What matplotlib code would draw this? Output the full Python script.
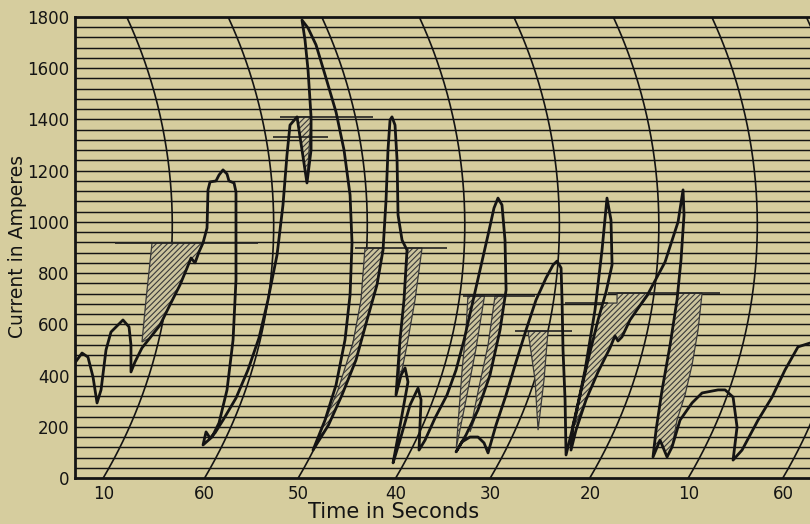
import numpy as np
import matplotlib.pyplot as plt

# Recording ammeter chart: current in amperes against time (curved time rulings)

amp_ticks = [0, 200, 400, 600, 800, 1000, 1200, 1400, 1600, 1800]
time_tick_pos = [2.9, 13.3, 22.9, 32.9, 42.6, 52.8, 62.9, 72.6]
time_tick_labels = ['10', '60', '50', '40', '30', '20', '10', '60']

# pen trace (seconds from left edge of sheet, amperes)
trace_s = [0.0, 0.72, 1.33, 1.85, 2.26, 2.67, 3.18, 3.69, 4.31, 4.92, 5.54, 5.74, 5.74,
           6.15, 6.87, 7.69, 8.72, 9.74, 10.77, 11.49, 11.9, 12.31, 12.72, 13.13, 13.54,
           13.64, 13.85, 14.46, 14.77, 15.18, 15.59, 15.79, 16.31, 16.51, 16.51, 16.21,
           15.59, 14.77, 14.05, 13.13, 13.44, 13.85, 14.36, 15.18, 16.51, 17.74, 18.87,
           19.79, 20.72, 21.33, 21.74, 22.05, 22.77, 23.79, 24.21, 24.21, 23.9, 23.59,
           23.28, 23.9, 24.72, 25.74, 26.77, 27.59, 28.21, 28.41, 28.21, 27.69, 26.77,
           25.64, 24.41, 26.0, 27.38, 28.82, 29.95, 30.97, 31.59, 31.9, 32.1, 32.31,
           32.51, 32.82, 33.03, 33.13, 33.54, 34.05, 33.74, 33.33, 32.92, 33.44, 33.85,
           34.15, 33.44, 32.62, 33.33, 34.36, 35.18, 35.49, 35.28, 35.9, 36.92, 38.15,
           39.08, 39.9, 40.72, 41.54, 42.36, 42.97, 43.38, 43.79, 44.1, 44.21, 43.59,
           42.56, 41.33, 40.1, 39.08, 39.69, 40.51, 41.33, 41.95, 42.36, 43.18, 44.21,
           45.23, 46.26, 47.28, 48.31, 49.03, 49.44, 49.85, 49.95, 50.05, 50.26, 50.36,
           51.28, 52.31, 53.33, 54.05, 54.56, 54.97, 55.08, 54.46, 53.64, 52.62, 51.69,
           51.08, 50.87, 51.38, 52.41, 53.64, 54.87, 55.38, 55.69, 56.1, 56.92, 58.77,
           60.51, 61.85, 62.36, 62.46, 62.15, 61.74, 61.03, 60.21, 59.59, 59.28, 60.0,
           60.72, 61.23, 62.05, 63.28, 64.31, 65.95, 66.67, 67.49, 67.9, 67.49, 68.41,
           70.05, 71.49, 72.82, 74.15, 75.38]
trace_a = [450, 488, 472, 394, 293, 344, 500, 570, 594, 617, 590, 519, 414,
           453, 508, 547, 597, 676, 754, 820, 859, 840, 883, 918, 976,
           1125, 1156, 1160, 1183, 1203, 1187, 1160, 1152, 1117, 773, 539,
           344, 215, 160, 129, 180, 156, 176, 226, 312, 422, 547,
           695, 871, 1066, 1261, 1378, 1410, 1152, 1281, 1410, 1593, 1710,
           1788, 1757, 1691, 1562, 1429, 1281, 1105, 918, 715, 539, 363,
           226, 109, 207, 324, 461, 617, 754, 890, 1086, 1281, 1398,
           1410, 1378, 1242, 1027, 929, 890, 695, 539, 324, 402, 430,
           375, 226, 59, 148, 285, 351, 305, 109, 148, 234, 324,
           422, 539, 676, 812, 949, 1054, 1093, 1066, 929, 734, 578,
           402, 266, 168, 102, 141, 160, 160, 137, 98, 207, 324,
           453, 578, 695, 781, 832, 847, 820, 695, 500, 305, 90,
           234, 422, 656, 890, 1093, 1007, 832, 726, 617, 461, 305,
           207, 109, 187, 305, 414, 508, 555, 535, 551, 617, 719,
           843, 1000, 1125, 1027, 851, 695, 519, 344, 187, 82, 148,
           82, 121, 226, 293, 332, 344, 344, 316, 199, 70, 109,
           226, 316, 422, 512, 527]

# average-current lines drawn across each run
avg_amps = [918, 1410, 1332, 898, 711, 574, 683, 722]
avg_from = [4.1, 21.0, 20.3, 28.7, 39.8, 45.1, 50.3, 54.7]
avg_to = [18.8, 30.6, 25.9, 38.2, 47.2, 51.0, 54.7, 66.2]

# hatched areas (seconds, amperes)
hatch_60 = [(7.9, 918), (13.13, 918), (12.72, 883), (12.31, 840), (11.9, 859), (11.49, 820),
            (10.77, 754), (9.74, 676), (8.72, 597), (7.69, 547), (6.87, 531), (7.28, 695)]
hatch_peak = [(22.77, 1410), (24.21, 1410), (23.79, 1152)]
hatch_50 = [(29.74, 898), (31.59, 898), (30.97, 754), (29.95, 617), (28.82, 461), (27.38, 324),
            (26.0, 207), (24.41, 109), (26.97, 344), (28.51, 527), (29.33, 695)]
hatch_40 = [(34.15, 898), (35.59, 898), (34.87, 695), (34.05, 519), (33.23, 363), (33.33, 539),
            (33.74, 695)]
hatch_30a = [(40.3, 711), (42.0, 711), (41.1, 500), (40.1, 305), (39.1, 117), (39.7, 422),
             (40.1, 578)]
hatch_30b = [(43.08, 711), (44.1, 711), (43.59, 578), (42.56, 402), (41.33, 266), (40.51, 180),
             (41.33, 336), (42.36, 519)]
hatch_25 = [(46.46, 574), (48.51, 574), (48.1, 383), (47.49, 187), (47.18, 383)]
hatch_20 = [(54.15, 683), (55.59, 683), (55.59, 722), (58.97, 722), (56.92, 617), (56.1, 551),
            (55.69, 535), (55.38, 555), (54.87, 508), (53.64, 414), (52.41, 305), (51.28, 207),
            (51.69, 305), (52.62, 461), (53.64, 617)]
hatch_10 = [(61.85, 722), (64.31, 722), (63.9, 578), (63.28, 441), (62.56, 324), (61.74, 226),
            (61.23, 121), (60.72, 82), (60.0, 148), (59.28, 82), (59.59, 187), (60.21, 344),
            (61.03, 519), (61.74, 695)]

PAPER = '#d6cd9e'
INK = '#141414'
T_MAX = 75.38

plt.rcParams['hatch.linewidth'] = 0.8

fig = plt.figure(figsize=(8.1, 5.24), dpi=100, facecolor=PAPER)
ax = fig.add_axes([75 / 810, 46 / 524, 735 / 810, 461 / 524])
ax.set_facecolor(PAPER)
ax.set_xlim(0, T_MAX)
ax.set_ylim(0, 1800)

# ruled lines every 40 A
for a in np.arange(40, 1800, 40):
    ax.axhline(a, color=INK, lw=1.05, zorder=2)

# curved time rulings (arcs swept by the pen arm)
px_s = 735 / T_MAX
px_a = 461 / 1800
arc_amps = np.linspace(0, 1800, 300)
dy = arc_amps * px_a - 253
arc_off = (69 - (498 - np.sqrt(498 ** 2 - dy ** 2))) / px_s
for b in time_tick_pos:
    ax.plot(b + arc_off, arc_amps, color=INK, lw=1.2, zorder=2)

# hatched areas
for poly in [hatch_60, hatch_peak, hatch_50, hatch_40, hatch_30a, hatch_30b,
             hatch_25, hatch_20, hatch_10]:
    xs, ys = zip(*poly)
    ax.fill(xs, ys, facecolor='#ccc49d', edgecolor='#3a3a3a', hatch='//////',
            linewidth=0.9, zorder=3)

# average lines
ax.hlines(avg_amps, avg_from, avg_to, color='#222222', lw=1.2, zorder=4)

# pen trace
ax.plot(trace_s, trace_a, color=INK, lw=2.0, solid_joinstyle='round',
        solid_capstyle='round', zorder=5)

for side in ['left', 'top', 'bottom']:
    ax.spines[side].set_linewidth(2.0)
    ax.spines[side].set_color(INK)
ax.spines['right'].set_visible(False)

ax.set_yticks(amp_ticks)
ax.set_yticklabels([str(v) for v in amp_ticks])
ax.set_xticks(time_tick_pos)
ax.set_xticklabels(time_tick_labels)
ax.tick_params(length=0, labelsize=12, colors=INK)
ax.tick_params(axis='y', pad=4)
ax.tick_params(axis='x', pad=5)

fig.text(0.022, 0.53, 'Current in Amperes', rotation=90, ha='center', va='center',
         fontsize=13.5, color=INK)
fig.text(0.486, 0.023, 'Time in Seconds', ha='center', va='center',
         fontsize=15, color=INK)

fig.savefig('out.png', dpi=100, facecolor=PAPER)
